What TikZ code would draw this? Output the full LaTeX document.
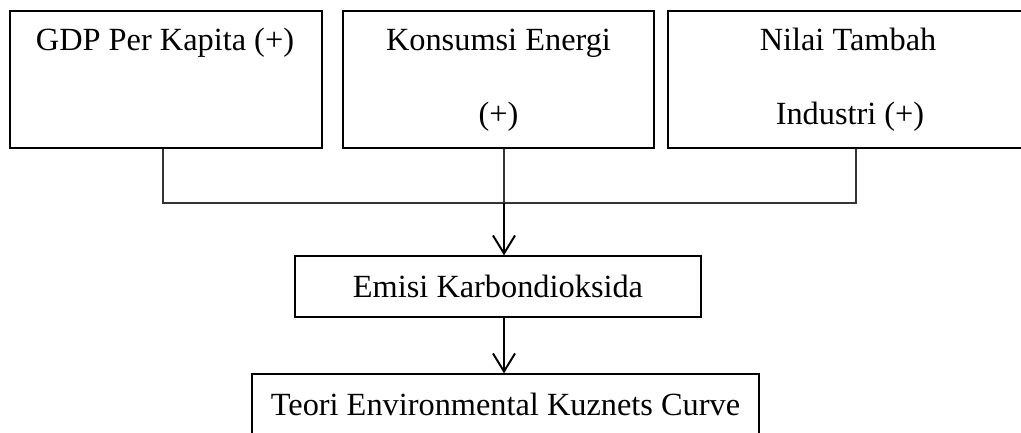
\documentclass[tikz,border=0pt]{standalone}
\usepackage{fontspec}
\setmainfont{Liberation Serif}
\usetikzlibrary{arrows.meta,calc}
\tikzset{>={Straight Barb[length=0.45cm,width=0.55cm]}}
\tikzset{
  box/.style={draw, line width=0.9pt, inner sep=0pt, font=\fontsize{23}{28}\selectfont},
  lbl/.style={anchor=base, inner sep=0pt, font=\fontsize{23}{28}\selectfont},
  link/.style={line width=0.9pt, draw=black!80},
  arr/.style={->, line width=1.4pt}
}

\begin{document}
\begin{tikzpicture}[x=0.025cm, y=-0.025cm]
    \useasboundingbox (0,0) rectangle (1021,433);
    \clip (0,0) rectangle (1021,433);

    % top row
    \node[box, minimum width=7.8cm, minimum height=3.425cm] (gdp) at (166,79.5) {};
    \node[box, minimum width=7.775cm, minimum height=3.425cm] (energi) at (498.5,79.5) {};
    \node[box, minimum width=9cm, minimum height=3.425cm] (ind) at (848,79.5) {};
    \node[lbl] (gdp-t) at (165,51) {GDP Per Kapita (+)};
    \node[lbl] (energi-t1) at (498.5,51) {Konsumsi Energi};
    \node[lbl] (energi-t2) at (498.5,125) {(+)};
    \node[lbl] (ind-t1) at (848,51) {Nilai Tambah};
    \node[lbl] (ind-t2) at (850,125) {Industri (+)};

    % lower boxes
    \node[box, minimum width=10.15cm, minimum height=1.525cm] (emisi) at (498,286.5) {Emisi Karbondioksida};
    \node[box, minimum width=12.675cm, minimum height=1.525cm] (teori) at (505.5,404.5) {Teori Environmental Kuznets Curve};

    % connectors
    \coordinate (join) at (504,203);
    \draw[link] ($(gdp.south)+(-3,0)$) |- (join);
    \draw[link] ($(ind.south)+(8,0)$) |- (join);
    \draw[link] (energi.south -| join) -- (join);
    \draw[arr] (join) -- (emisi.north -| join);
    \draw[arr] (emisi.south -| join) -- (teori.north -| join);
\end{tikzpicture}
\end{document}
